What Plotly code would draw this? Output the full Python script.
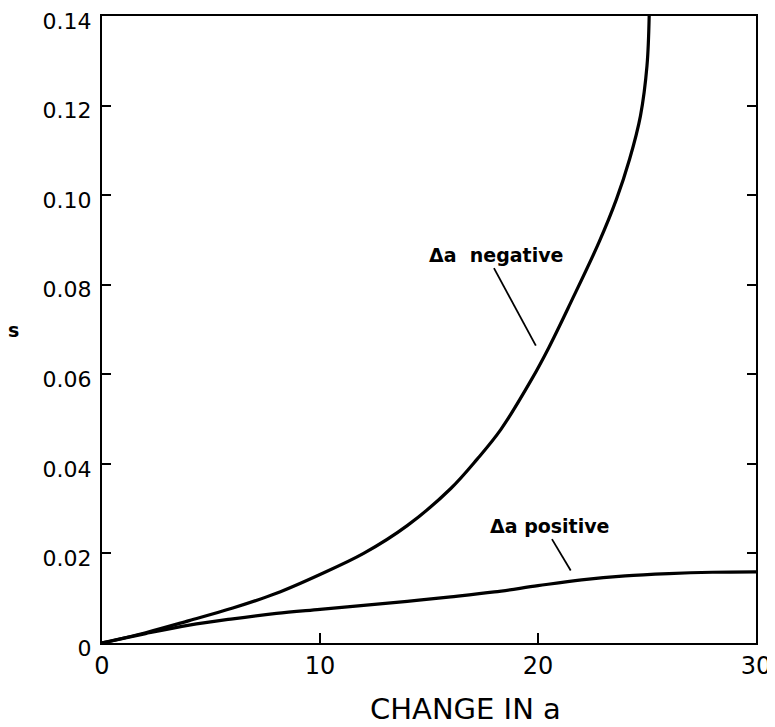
import plotly.graph_objects as go

# Data
neg_x = [0, 2, 4, 6, 8, 10, 12, 14, 16, 17.2, 18.3, 19.7, 20.5, 21.5, 22.8, 23.6, 24.2, 24.7, 25.0, 25.1]
neg_s = [0, 0.0023, 0.0050, 0.0078, 0.0111, 0.0153, 0.0200, 0.0262, 0.0345, 0.041, 0.0477,
         0.0588, 0.066, 0.076, 0.0895, 0.0991, 0.108, 0.1177, 0.1289, 0.14]

pos_x = [0, 2, 4, 6, 8, 10, 12, 14, 16, 18, 20, 22, 24, 26, 28, 30]
pos_s = [0, 0.0021, 0.0040, 0.0054, 0.0066, 0.0075, 0.0084, 0.0093, 0.0103, 0.0114, 0.0128,
         0.0141, 0.0150, 0.0155, 0.0158, 0.0159]

x_ticks = [0, 10, 20, 30]
x_labels = ["0", "10", "20", "30"]
y_ticks = [0, 0.02, 0.04, 0.06, 0.08, 0.10, 0.12, 0.14]
y_labels = ["0", "0.02", "0.04", "0.06", "0.08", "0.10", "0.12", "0.14"]

FONT = "DejaVu Sans"

fig = go.Figure()
fig.add_trace(go.Scatter(x=neg_x, y=neg_s, mode="lines", line=dict(color="black", width=3.2, shape="spline"),
                         showlegend=False, hoverinfo="skip"))
fig.add_trace(go.Scatter(x=pos_x, y=pos_s, mode="lines", line=dict(color="black", width=3.2, shape="spline"),
                         showlegend=False, hoverinfo="skip"))

# Labels with leader lines
fig.add_annotation(x=18.07, y=0.0866, text="Δa  negative", showarrow=False, xref="x", yref="y",
                   font=dict(family=FONT, size=19, color="black", weight="bold"))
fig.add_shape(type="line", x0=17.98, y0=0.0837, x1=19.9, y1=0.0664, xref="x", yref="y",
              line=dict(color="black", width=1.8))
fig.add_annotation(x=20.55, y=0.0262, text="Δa positive", showarrow=False, xref="x", yref="y",
                   font=dict(family=FONT, size=19, color="black", weight="bold"))
fig.add_shape(type="line", x0=20.64, y0=0.0232, x1=21.5, y1=0.0162, xref="x", yref="y",
              line=dict(color="black", width=1.8))

# Axis titles
fig.add_annotation(x=0.5, y=-0.1052, xref="paper", yref="paper", text="CHANGE IN a", showarrow=False,
                   yanchor="middle", xanchor="center", xshift=36,
                   font=dict(family=FONT, size=29, color="black"))
fig.add_annotation(x=0, y=0.5, xref="paper", yref="paper", text="s", showarrow=False, xanchor="center",
                   xshift=-89, font=dict(family=FONT, size=19, color="black", weight="bold"))

fig.update_xaxes(range=[0, 30], tickvals=x_ticks, ticktext=x_labels, ticks="inside", ticklen=10, tickwidth=2,
                 tickcolor="black", showline=True, linecolor="black", linewidth=2.2, mirror=True,
                 showgrid=False, zeroline=False, automargin=False, ticklabeloverflow="allow",
                 tickfont=dict(family=FONT, size=24, color="black"))
fig.update_yaxes(range=[0, 0.14], tickvals=y_ticks, ticktext=y_labels, ticks="inside", ticklen=9, tickwidth=2,
                 tickcolor="black", showline=True, linecolor="black", linewidth=2.2, mirror="ticks",
                 showgrid=False, zeroline=False, automargin=False, ticklabeloverflow="allow",
                 tickfont=dict(family=FONT, size=22, color="black"), ticklabelstandoff=4,
                 ticklabelshift=5)

# The page body adds an 8px margin, so the figure is sized to fit the 775x727 window.
fig.update_layout(width=767, height=719, margin=dict(l=94, r=19, t=8, b=84, autoexpand=False),
                  paper_bgcolor="white", plot_bgcolor="white", font=dict(family=FONT, color="black"))

fig.write_html("out.html")
